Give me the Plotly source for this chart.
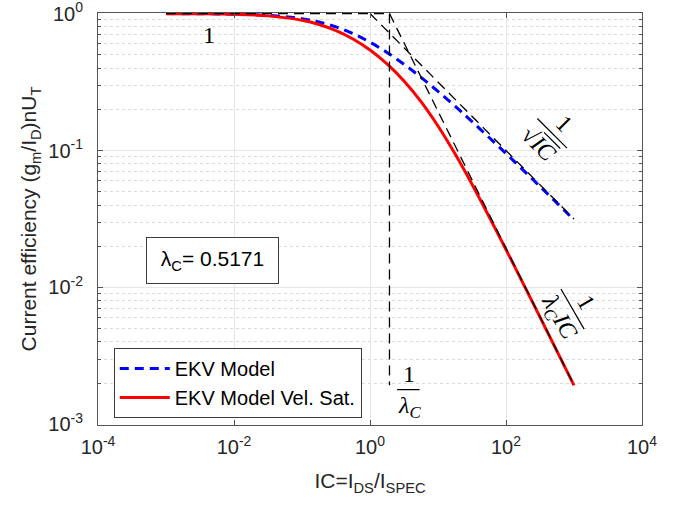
import math
import plotly.graph_objects as go

# Inversion coefficient sample points
ic = [1e-3, 3.162e-3, 1e-2, 3.162e-2, 0.1, 0.1778, 0.3162, 0.5623, 1.0,
      1.778, 3.162, 5.623, 10.0, 17.78, 31.62, 100.0, 316.2, 1000.0]
# Normalised transconductance efficiency, plain EKV model
ekv = [0.999, 0.9969, 0.9902, 0.9702, 0.9161, 0.8665, 0.7984, 0.7136, 0.6180,
       0.5197, 0.4260, 0.3421, 0.2702, 0.2107, 0.1627, 0.0951, 0.05468, 0.03113]
# Same with velocity saturation
ekv_vsat = [0.9987, 0.9960, 0.9872, 0.9615, 0.8933, 0.8327, 0.7515, 0.6525, 0.5424,
            0.4296, 0.3222, 0.2276, 0.1510, 0.0946, 0.05672, 0.01893, 0.006077, 0.001930]
lambda_c = 0.5171

# Asymptotes
ic_flat, flat = [1e-3, 1.934], [1.0, 1.0]
ic_sqrt, sqrt_asym = [1.0, 1000.0], [1.0, 0.03162]
ic_sat, sat_asym = [1.934, 1000.0], [1.0, 0.001934]
ic_knee, knee = [1.934, 1.934], [1.0, 0.00193]

x_tickvals = [1e-4, 1e-2, 1e0, 1e2, 1e4]
x_ticktext = ["10<sup>-4</sup>", "10<sup>-2</sup>", "10<sup>0</sup>", "10<sup>2</sup>", "10<sup>4</sup>"]
y_tickvals = [1e-3, 1e-2, 1e-1, 1e0]
y_ticktext = ["10<sup>-3</sup>", "10<sup>-2</sup>", "10<sup>-1</sup>", "10<sup>0</sup>"]

SANS = "Liberation Sans, Arial, sans-serif"
SERIF = "Liberation Serif, DejaVu Serif, serif"
TXT = "#262626"
MATH_SIZE = 24

fig = go.Figure()
fig.add_trace(go.Scatter(x=ic, y=ekv, mode="lines", name="EKV Model",
                         line=dict(color="#0000ff", width=3, dash="9px,6px", shape="spline")))
fig.add_trace(go.Scatter(x=ic, y=ekv_vsat, mode="lines", name="EKV Model Vel. Sat.",
                         line=dict(color="#ff0000", width=3, shape="spline")))
for xs, ys in [(ic_flat, flat), (ic_sqrt, sqrt_asym), (ic_sat, sat_asym), (ic_knee, knee)]:
    fig.add_trace(go.Scatter(x=xs, y=ys, mode="lines", showlegend=False,
                             line=dict(color="#000000", width=1.3, dash="10px,6px")))

annotations = []


def text_at(lx, ly, text, angle=0, dx=0, dy=0, size=MATH_SIZE):
    annotations.append(dict(x=lx, y=ly, xref="x", yref="y", text=text, showarrow=False,
                            textangle=angle, xshift=dx, yshift=-dy,
                            font=dict(family=SERIF, size=size, color="#000000")))


def segment(lx, ly, length, angle, off_u=0.0, off_v=0.0):
    # straight line of `length` px near a point, rotated clockwise by `angle`
    a = math.radians(angle)
    ux, uy = math.cos(a), math.sin(a)          # along the text, screen coords
    vx, vy = math.sin(a), -math.cos(a)         # "up" for the text
    cx = off_u * ux + off_v * vx
    cy = off_u * uy + off_v * vy
    sx, sy = cx - length / 2 * ux, cy - length / 2 * uy
    annotations.append(dict(x=lx, y=ly, xref="x", yref="y", text="", showarrow=True,
                            arrowhead=0, arrowwidth=1.2, arrowcolor="#000000",
                            standoff=0, startstandoff=0,
                            xshift=sx, yshift=-sy, ax=length * ux, ay=length * uy))


def fraction(lx, ly, num, den, angle, length, d_num, d_den, den_u=0.0, root=None):
    a = math.radians(angle)
    ux, uy = math.cos(a), math.sin(a)
    vx, vy = math.sin(a), -math.cos(a)
    segment(lx, ly, length, angle)
    text_at(lx, ly, num, angle, dx=d_num * vx, dy=d_num * vy)
    text_at(lx, ly, den, angle, dx=-d_den * vx + den_u * ux, dy=-d_den * vy + den_u * uy)
    if root is not None:
        r_len, r_u, r_v = root
        segment(lx, ly, r_len, angle, off_u=r_u, off_v=-r_v)


# "1" label on the weak-inversion plateau
text_at(-2.37, -0.16, "1")
# 1/sqrt(IC) asymptote label
fraction(2.69, -0.88, "1", "√<i>IC</i>", 45, 44, 15, 17, den_u=-3, root=(25, 5, 5))
# 1/(lambda_c IC) asymptote label
fraction(2.985, -2.163, "1", "<i>λ<sub>C</sub>IC</i>", 60, 48, 15, 17)
# 1/lambda_c marker
fraction(0.575, -2.745, "1", "<i>λ<sub>C</sub></i>", 0, 24, 16, 17)

# Parameter box
annotations.append(dict(x=-2.31, y=-1.806, xref="x", yref="y",
                        text="λ<sub>C</sub>= 0.5171", showarrow=False,
                        font=dict(family=SANS, size=21, color="#000000"),
                        bordercolor="#3c3c3c", borderwidth=1, borderpad=6,
                        bgcolor="#ffffff", width=119, height=33))

fig.update_layout(
    width=682, height=505,
    margin=dict(l=98, r=40, t=13, b=80, autoexpand=False),
    paper_bgcolor="#ffffff", plot_bgcolor="#ffffff",
    font=dict(family=SANS, size=20, color=TXT),
    annotations=annotations,
    legend=dict(x=0.029, y=0.187, xanchor="left", yanchor="top",
                bordercolor="#3c3c3c", borderwidth=1, bgcolor="#ffffff",
                font=dict(family=SANS, size=20, color="#000000"),
                itemwidth=50, tracegroupgap=0),
    xaxis=dict(type="log", range=[-4, 4], tickvals=x_tickvals, ticktext=x_ticktext,
               ticks="inside", ticklen=5, tickcolor="#555555", mirror="allticks",
               showline=True, linecolor="#555555", linewidth=1,
               showgrid=True, gridcolor="#e6e6e6", gridwidth=1, zeroline=False,
               tickfont=dict(size=20, color=TXT), ticklabelstandoff=4,
               ticklabeloverflow="allow", automargin=False,
               title=dict(text="IC=I<sub>DS</sub>/I<sub>SPEC</sub>", font=dict(size=21, color=TXT),
                          standoff=16)),
    yaxis=dict(type="log", range=[-3.004, 0.004], tickvals=y_tickvals, ticktext=y_ticktext,
               ticks="inside", ticklen=5, tickcolor="#555555", mirror="allticks",
               showline=True, linecolor="#555555", linewidth=1,
               showgrid=True, gridcolor="#e6e6e6", gridwidth=1, zeroline=False,
               tickfont=dict(size=20, color=TXT), ticklabelstandoff=10,
               ticklabeloverflow="allow", automargin=False,
               minor=dict(dtick="D1", ticks="inside", ticklen=3, tickcolor="#555555",
                          showgrid=True, gridcolor="#dadada", griddash="dot", gridwidth=1),
               title=dict(text="Current efficiency (g<sub>m</sub>/I<sub>D</sub>)nU<sub>T</sub>",
                          font=dict(size=21, color=TXT), standoff=5)),
)

fig.write_html("out.html")
